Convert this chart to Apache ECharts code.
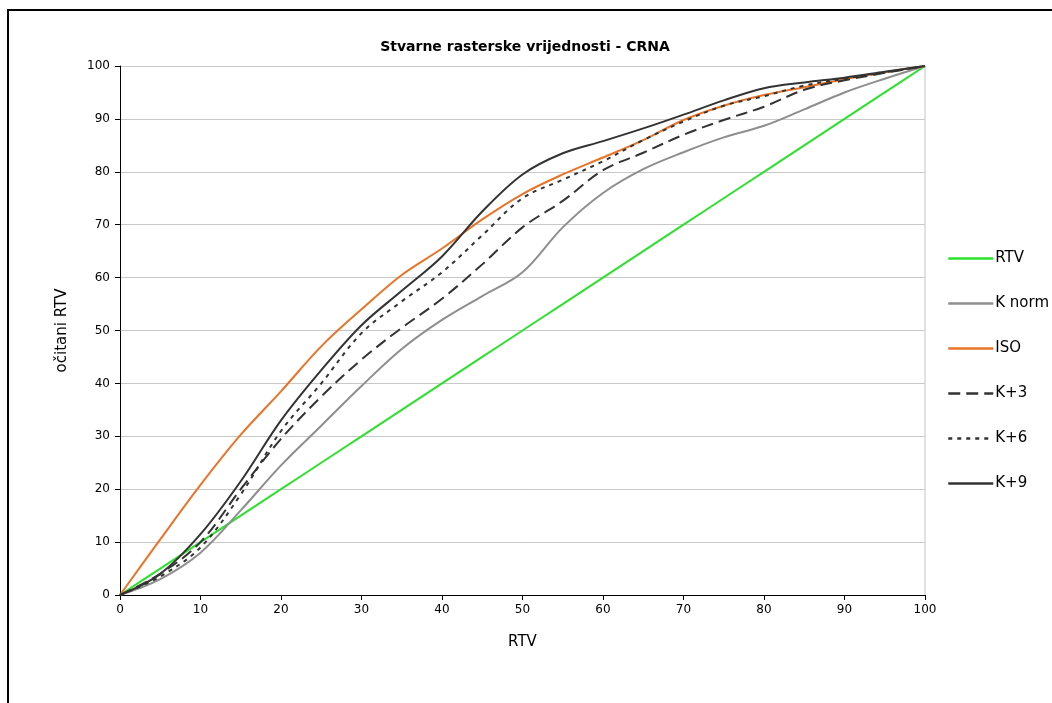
<!DOCTYPE html>
<html>
<head>
<meta charset="utf-8">
<title>Stvarne rasterske vrijednosti - CRNA</title>
<script src="https://cdn.jsdelivr.net/npm/echarts@6/dist/echarts.min.js"></script>
<style>
  html, body { margin: 0; padding: 0; background: #fff; }
  #chart { width: 1052px; height: 703px; }
</style>
</head>
<body>
<div id="chart"></div>
<script>
// RTV vrijednosti (x os)
const rtv = [0, 5, 10, 15, 20, 25, 30, 35, 40, 45, 50, 55, 60, 65, 70, 75, 80, 85, 90, 95, 100]

// očitane vrijednosti po krivulji
const kNorm = [0, 3, 8, 16, 24.5, 32, 39.5, 46.5, 52, 56.5, 61, 69.5, 76, 80.5, 83.7, 86.5, 88.7, 91.8, 95, 97.6, 100]
const iso = [0, 10.5, 20.8, 30.3, 38.5, 47, 54, 60.5, 65.5, 71, 75.8, 79.5, 82.7, 86, 89.8, 92.5, 94.5, 96, 97.5, 98.8, 100]
const k3 = [0, 4, 10, 20, 29.5, 37.5, 44.5, 50.5, 56, 62.5, 69.5, 74.5, 80.3, 83.6, 87, 89.8, 92.3, 95.5, 97.3, 98.7, 100]
const k6 = [0, 3.5, 9, 19, 31, 40, 49.5, 55.5, 61, 68, 75, 78.5, 82, 86, 89.5, 92.5, 94.3, 96.3, 97.6, 98.8, 100]
const k9 = [0, 4, 11.5, 21.5, 33, 42.5, 51, 57.5, 64, 72.5, 79.5, 83.5, 85.8, 88.2, 90.8, 93.5, 95.8, 96.9, 97.8, 98.9, 100]

const pairs = ys => rtv.map((x, i) => [x, ys[i]])

const chart = echarts.init(document.getElementById('chart'))

function line(name, ys, color, type) {
  return {
    name: name,
    type: 'line',
    data: pairs(ys),
    smooth: 0.35,
    symbol: 'none',
    lineStyle: { color: color, width: 2, type: type || 'solid' },
    itemStyle: { color: color },
    emphasis: { disabled: true }
  }
}

const option = {
  animation: false,
  backgroundColor: '#fff',
  textStyle: { fontFamily: 'DejaVu Sans' },
  title: {
    text: 'Stvarne rasterske vrijednosti - CRNA',
    left: 520,
    textAlign: 'center',
    top: 35,
    textStyle: { fontFamily: 'DejaVu Sans', fontWeight: 'bold', fontSize: 14, color: '#000' }
  },
  graphic: [
    // okvir grafikona
    { type: 'rect', shape: { x: 8, y: 10, width: 2000, height: 2000 },
      style: { fill: 'none', stroke: '#000', lineWidth: 2 }, silent: true },
    { type: 'line', shape: { x1: 925, y1: 66, x2: 925, y2: 595 },
      style: { stroke: '#c4c4c4', lineWidth: 1 }, silent: true }
  ],
  legend: {
    orient: 'vertical',
    left: 942,
    top: 246,
    itemWidth: 45,
    itemHeight: 14,
    itemGap: 30,
    itemStyle: { opacity: 0 },
    lineStyle: { width: 2.5 },
    data: ['RTV', 'K norm', 'ISO', 'K+3', 'K+6', 'K+9'],
    textStyle: { fontFamily: 'DejaVu Sans', fontSize: 15, color: '#000', padding: [0, 0, 0, -3] }
  },
  grid: { left: 120, right: 127, top: 66, bottom: 108 },
  xAxis: {
    type: 'value',
    min: 0, max: 100, interval: 10,
    name: 'RTV',
    nameLocation: 'middle',
    nameGap: 40,
    nameTextStyle: { fontFamily: 'DejaVu Sans', fontSize: 15, color: '#000' },
    axisLine: { lineStyle: { color: '#000', width: 1 } },
    axisTick: { length: 5, lineStyle: { color: '#000' } },
    axisLabel: { color: '#000', fontSize: 12, margin: 9 },
    splitLine: { show: false }
  },
  yAxis: {
    type: 'value',
    min: 0, max: 100, interval: 10,
    name: 'očitani RTV',
    nameLocation: 'middle',
    nameGap: 50,
    nameTextStyle: { fontFamily: 'DejaVu Sans', fontSize: 15, color: '#000' },
    axisLine: { show: true, lineStyle: { color: '#000', width: 1 } },
    axisTick: { show: true, length: 5, lineStyle: { color: '#000' } },
    axisLabel: { color: '#000', fontSize: 12, margin: 10 },
    splitLine: { show: true, lineStyle: { color: '#c8c8c8', width: 1 } }
  },
  series: [
    line('RTV', rtv, '#2de02d'),
    line('K norm', kNorm, '#8e8e8e'),
    line('ISO', iso, '#ea7328'),
    line('K+3', k3, '#333333', [12, 6]),
    line('K+6', k6, '#333333', [4, 5]),
    line('K+9', k9, '#333333')
  ]
}

chart.setOption(option)
</script>
</body>
</html>
